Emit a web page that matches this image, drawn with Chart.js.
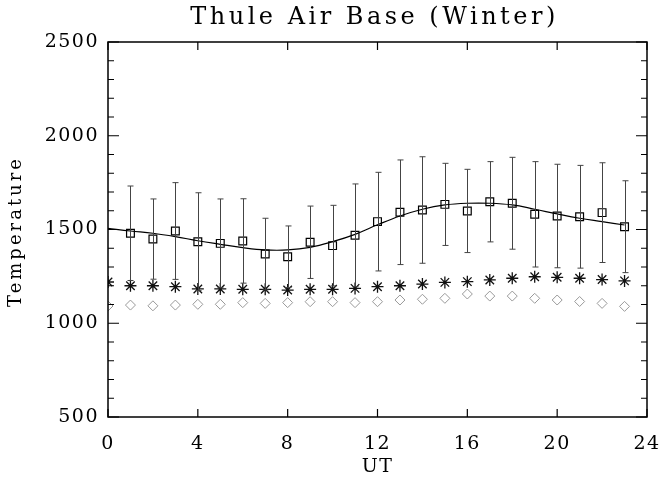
<!DOCTYPE html>
<html>
<head>
<meta charset="utf-8">
<script src="https://cdn.jsdelivr.net/npm/chart.js@4"></script>
<style>
  html, body { margin: 0; padding: 0; background: #fff; }
  #wrap { width: 659px; height: 478px; }
</style>
</head>
<body>
<div id="wrap"><canvas id="myChart"></canvas></div>
<script>
//  chart data
const fit_hours = [0, 1, 2, 3, 4, 5, 6, 7, 8, 9, 10, 11, 12, 13, 14, 15, 16, 17, 18, 19, 20, 21, 22, 23];
const fit_values = [1506, 1492, 1480, 1462, 1440, 1421, 1403, 1391, 1391, 1405, 1435, 1474, 1525, 1572, 1608, 1631, 1640, 1640, 1631, 1608, 1583, 1560, 1542, 1524];

const square_hours = [1, 2, 3, 4, 5, 6, 7, 8, 9, 10, 11, 12, 13, 14, 15, 16, 17, 18, 19, 20, 21, 22, 23];
const square_values = [1480, 1449, 1492, 1435, 1426, 1439, 1369, 1355, 1432, 1414, 1469, 1542, 1592, 1604, 1634, 1599, 1648, 1640, 1581, 1572, 1568, 1590, 1515];
const square_errors = [252, 214, 258, 261, 237, 225, 191, 164, 193, 215, 274, 263, 279, 284, 219, 222, 214, 245, 281, 276, 274, 266, 245];

const star_hours = [0, 1, 2, 3, 4, 5, 6, 7, 8, 9, 10, 11, 12, 13, 14, 15, 16, 17, 18, 19, 20, 21, 22, 23];
const star_values = [1220, 1200, 1200, 1195, 1183, 1183, 1181, 1181, 1177, 1181, 1181, 1186, 1195, 1200, 1209, 1218, 1222, 1231, 1240, 1248, 1245, 1240, 1233, 1226];

const diamond_hours = [0, 1, 2, 3, 4, 5, 6, 7, 8, 9, 10, 11, 12, 13, 14, 15, 16, 17, 18, 19, 20, 21, 22, 23];
const diamond_values = [1092, 1097, 1093, 1097, 1101, 1101, 1110, 1106, 1110, 1115, 1115, 1110, 1115, 1124, 1128, 1133, 1156, 1145, 1145, 1133, 1124, 1116, 1106, 1090];

const x_ticks = [0, 4, 8, 12, 16, 20, 24];
const y_ticks = [500, 1000, 1500, 2000, 2500];
const y_minor_step = 100;

const title_text = 'Thule Air Base (Winter)';
const y_title_text = 'Temperature';

const serif = "'DejaVu Serif', 'Liberation Serif', serif";

function to_points(xs, ys) {
  return xs.map((x, i) => ({ x: x, y: ys[i] }));
}

//  letter spacing for the wide plot font
const spacing_plugin = {
  id: 'spacing',
  beforeUpdate(chart) { chart.ctx.letterSpacing = '1.5px'; },
  beforeDraw(chart) { chart.ctx.letterSpacing = '1.5px'; }
};

//  error bars on the square series
const errorbar_plugin = {
  id: 'errorbars',
  afterDatasetsDraw(chart) {
    const ctx = chart.ctx;
    const xs = chart.scales.x;
    const ys = chart.scales.y;
    ctx.save();
    ctx.strokeStyle = '#444';
    ctx.lineWidth = 1;
    square_hours.forEach((h, i) => {
      const px = Math.round(xs.getPixelForValue(h)) + 0.5;
      const top = ys.getPixelForValue(square_values[i] + square_errors[i]);
      const bot = ys.getPixelForValue(square_values[i] - square_errors[i]);
      ctx.beginPath();
      ctx.moveTo(px, top);
      ctx.lineTo(px, bot);
      ctx.moveTo(px - 3, top);
      ctx.lineTo(px + 3, top);
      ctx.moveTo(px - 3, bot);
      ctx.lineTo(px + 3, bot);
      ctx.stroke();
    });
    ctx.restore();
  }
};

//  box with inward ticks on all four sides, plus the titles
const frame_plugin = {
  id: 'frame',
  afterDraw(chart) {
    const ctx = chart.ctx;
    const a = chart.chartArea;
    const xs = chart.scales.x;
    const ys = chart.scales.y;
    ctx.save();
    ctx.strokeStyle = '#000';
    ctx.lineWidth = 1.5;
    ctx.strokeRect(a.left, a.top, a.right - a.left, a.bottom - a.top);
    ctx.lineWidth = 1.2;
    ctx.beginPath();
    x_ticks.forEach(v => {
      const px = xs.getPixelForValue(v);
      ctx.moveTo(px, a.bottom);
      ctx.lineTo(px, a.bottom - 8);
      ctx.moveTo(px, a.top);
      ctx.lineTo(px, a.top + 8);
    });
    for (let v = ys.min; v <= ys.max; v += y_minor_step) {
      const py = ys.getPixelForValue(v);
      const len = y_ticks.includes(v) ? 11 : 6;
      ctx.moveTo(a.left, py);
      ctx.lineTo(a.left + len, py);
      ctx.moveTo(a.right, py);
      ctx.lineTo(a.right - len, py);
    }
    ctx.stroke();

    ctx.fillStyle = '#000';
    ctx.textAlign = 'center';
    ctx.textBaseline = 'alphabetic';
    ctx.letterSpacing = '3.5px';
    ctx.font = "24px " + serif;
    ctx.fillText(title_text, (a.left + a.right) / 2 - 3, 24);

    ctx.letterSpacing = '3px';
    ctx.font = "18px " + serif;
    ctx.translate(21, (a.top + a.bottom) / 2 + 2);
    ctx.rotate(-Math.PI / 2);
    ctx.fillText(y_title_text, 0, 0);
    ctx.restore();
  }
};

const ctx = document.getElementById('myChart').getContext('2d');
const myChart = new Chart(ctx, {
  type: 'scatter',
  data: {
    datasets: [
      {
        label: 'fit',
        data: to_points(fit_hours, fit_values),
        showLine: true,
        borderColor: '#000',
        borderWidth: 1.2,
        pointRadius: 0,
        tension: 0.4,
        clip: 0
      },
      {
        label: 'squares',
        data: to_points(square_hours, square_values),
        pointStyle: 'rect',
        pointRadius: 5.5,
        borderColor: '#000',
        borderWidth: 1.2,
        backgroundColor: 'rgba(0,0,0,0)',
        clip: 0
      },
      {
        label: 'stars',
        data: to_points(star_hours, star_values),
        pointStyle: 'star',
        pointRadius: 6,
        borderColor: '#111',
        borderWidth: 1.3,
        backgroundColor: 'rgba(0,0,0,0)',
        clip: 0
      },
      {
        label: 'diamonds',
        data: to_points(diamond_hours, diamond_values),
        pointStyle: 'rectRot',
        pointRadius: 5,
        borderColor: '#999',
        borderWidth: 1,
        backgroundColor: 'rgba(0,0,0,0)',
        clip: 0
      }
    ]
  },
  options: {
    responsive: true,
    maintainAspectRatio: false,
    animation: false,
    events: [],
    layout: { padding: { top: 42, right: 12, left: 0, bottom: 0 } },
    plugins: {
      legend: { display: false },
      tooltip: { enabled: false },
      title: { display: false }
    },
    scales: {
      x: {
        type: 'linear',
        min: 0,
        max: 24,
        grid: { display: false, drawTicks: false },
        border: { display: false },
        afterBuildTicks(scale) { scale.ticks = x_ticks.map(v => ({ value: v })); },
        afterFit(scale) {
          scale.height = 61;
          scale.paddingLeft = 0;
          scale.paddingRight = 0;
        },
        ticks: {
          color: '#000',
          padding: 16,
          maxRotation: 0,
          font: { family: serif, size: 19 },
          callback: v => String(v)
        },
        title: {
          display: true,
          text: 'UT',
          color: '#000',
          font: { family: serif, size: 19 },
          padding: { top: 0, bottom: 0 }
        }
      },
      y: {
        min: 500,
        max: 2500,
        grid: { display: false, drawTicks: false },
        border: { display: false },
        afterBuildTicks(scale) { scale.ticks = y_ticks.map(v => ({ value: v })); },
        afterFit(scale) {
          scale.width = 108;
          scale.paddingTop = 0;
          scale.paddingBottom = 0;
        },
        ticks: {
          color: '#000',
          padding: 9,
          font: { family: serif, size: 19 },
          callback: v => String(v)
        }
      }
    }
  },
  plugins: [spacing_plugin, errorbar_plugin, frame_plugin]
});
</script>
</body>
</html>
